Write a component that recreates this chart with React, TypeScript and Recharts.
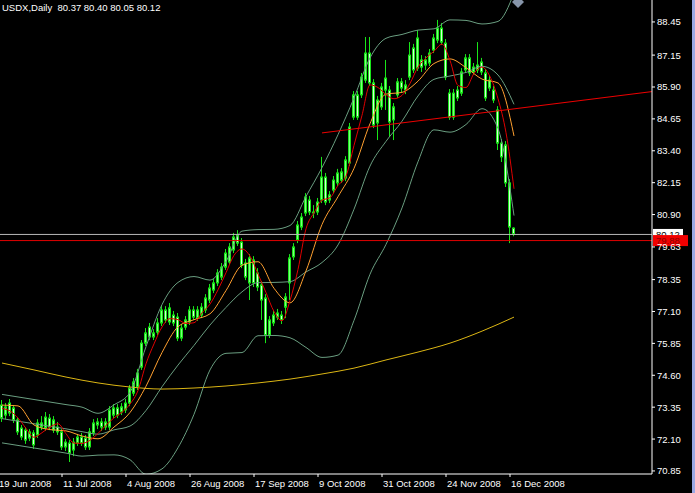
import { Bar, ComposedChart, Line, ReferenceDot, ReferenceLine, XAxis, YAxis } from 'recharts'

// USDX daily candles, 20 Jun 2008 .. 17 Dec 2008 (one entry per bar)
const opens = [
  73.43, 73.04, 73.51, 73.32, 72.85, 72.53, 72.45, 72.14, 72.34, 72.26,
  72.57, 72.53, 72.92, 72.45, 72.57, 72.38, 71.79, 71.94, 71.67, 71.94,
  72.18, 72.14, 71.79, 72.34, 72.65, 72.77, 72.57, 72.57, 73.04, 73.32,
  73.16, 73.24, 73.51, 73.9, 74.14, 74.92, 75.86, 76.49, 76.1, 76.29,
  76.65, 77.16, 76.69, 76.96, 76.88, 76.06, 76.49, 76.69, 77.16, 76.84,
  76.96, 77.16, 77.55, 77.94, 78.22, 78.45, 78.84, 79.04, 79.51, 80.1,
  79.82, 79.0, 78.22, 79.12, 78.61, 78.14, 77.63, 76.18, 76.65, 76.88,
  76.96, 77.27, 78.22, 79.24, 79.9, 80.41, 80.96, 81.47, 81.0, 81.0,
  81.47, 82.37, 81.47, 81.86, 82.14, 82.25, 82.33, 82.92, 84.72, 85.59,
  85.59, 86.17, 87.23, 86.06, 84.49, 85.12, 85.78, 85.78, 84.61, 85.59,
  86.1, 85.78, 86.29, 87.43, 86.64, 86.96, 86.76, 86.84, 87.35, 87.74,
  88.21, 87.62, 85.66, 84.72, 85.78, 85.66, 86.57, 87.04, 86.49, 86.57,
  86.88, 86.45, 85.86, 85.78, 85.0, 83.7, 83.63, 82.14, 80.37,
]
const highs = [
  73.63, 73.51, 73.67, 73.43, 72.96, 72.65, 72.57, 72.49, 72.45, 72.88,
  73.0, 73.16, 73.08, 73.0, 72.77, 72.49, 72.1, 72.06, 72.14, 72.3,
  72.34, 72.26, 72.53, 72.88, 72.92, 72.92, 72.92, 73.39, 73.47, 73.47,
  73.51, 73.67, 74.22, 74.49, 74.85, 75.98, 76.45, 76.65, 76.41, 76.84,
  77.35, 77.31, 77.43, 77.12, 77.04, 76.61, 76.92, 77.31, 77.31, 77.31,
  77.43, 77.78, 78.18, 78.37, 78.76, 79.0, 79.55, 79.78, 80.18, 80.29,
  79.98, 79.16, 79.35, 79.27, 78.8, 78.29, 77.78, 76.92, 77.12, 77.2,
  77.12, 77.82, 79.35, 79.78, 80.65, 80.96, 81.74, 81.63, 81.27, 81.55,
  83.16, 82.53, 81.82, 82.41, 82.69, 82.72, 83.19, 84.49, 85.74, 85.74,
  86.45, 87.86, 87.86, 86.21, 85.55, 86.06, 86.96, 85.94, 85.27, 86.25,
  86.25, 86.17, 87.66, 87.59, 88.13, 87.15, 87.11, 87.39, 87.98, 88.53,
  88.41, 87.78, 85.82, 85.82, 85.94, 86.64, 87.19, 87.19, 86.84, 87.66,
  87.04, 86.61, 86.33, 85.94, 85.15, 83.86, 83.78, 82.29, 80.4,
]
const lows = [
  72.77, 72.88, 73.0, 72.73, 72.26, 72.06, 71.91, 72.02, 71.71, 72.14,
  72.45, 72.42, 72.45, 72.34, 72.26, 71.67, 71.63, 71.2, 71.43, 71.83,
  71.83, 71.67, 71.67, 72.22, 72.49, 72.42, 72.45, 72.45, 72.92, 72.92,
  73.04, 73.12, 73.39, 73.79, 74.02, 74.81, 75.75, 75.98, 75.98, 76.18,
  76.53, 76.65, 76.57, 76.53, 75.94, 75.94, 76.38, 76.57, 76.77, 76.73,
  76.84, 77.04, 77.43, 77.82, 78.1, 78.33, 78.73, 78.92, 79.39, 79.67,
  78.8, 78.33, 77.55, 78.06, 77.9, 76.77, 75.86, 76.06, 76.53, 76.77,
  76.61, 76.84, 77.55, 79.12, 79.78, 80.29, 80.84, 80.88, 80.76, 80.88,
  81.35, 81.27, 81.35, 81.74, 82.02, 82.14, 82.21, 82.8, 84.61, 84.61,
  85.47, 86.06, 85.94, 84.29, 83.82, 85.0, 85.0, 83.94, 83.82, 85.47,
  85.7, 85.62, 86.17, 86.45, 86.53, 86.49, 86.57, 86.72, 87.23, 87.62,
  87.55, 86.17, 84.61, 84.61, 85.35, 85.55, 86.45, 86.33, 86.37, 86.45,
  86.37, 85.35, 85.74, 85.27, 83.43, 82.96, 81.98, 79.78, 80.05,
]
const closes = [
  72.92, 73.36, 73.12, 72.85, 72.38, 72.18, 72.06, 72.38, 71.87, 72.73,
  72.73, 72.96, 72.57, 72.85, 72.38, 71.79, 71.98, 71.55, 71.98, 72.18,
  71.94, 71.79, 72.38, 72.73, 72.77, 72.57, 72.77, 73.24, 73.32, 73.04,
  73.36, 73.51, 74.1, 74.34, 74.69, 75.86, 76.26, 76.1, 76.26, 76.65,
  77.16, 76.77, 77.24, 76.65, 76.06, 76.45, 76.77, 77.16, 76.88, 77.16,
  77.27, 77.63, 78.02, 78.22, 78.61, 78.84, 79.39, 79.63, 80.02, 79.78,
  78.92, 78.45, 79.2, 78.22, 78.06, 77.55, 76.18, 76.77, 76.96, 77.04,
  76.77, 77.67, 79.2, 79.63, 80.49, 80.8, 81.59, 81.0, 80.96, 81.39,
  82.37, 81.39, 81.67, 82.25, 82.53, 82.57, 83.04, 84.33, 85.59, 84.72,
  86.29, 87.23, 86.06, 84.41, 85.39, 85.9, 86.25, 84.53, 85.12, 86.1,
  85.86, 85.98, 87.15, 86.57, 87.82, 86.68, 86.96, 87.23, 87.82, 88.21,
  87.66, 86.29, 84.72, 85.66, 85.47, 86.49, 87.04, 86.45, 86.68, 86.76,
  86.49, 85.47, 86.17, 85.39, 83.7, 83.16, 82.14, 80.41, 80.12,
]

// red MA, read every 2nd bar
const maFast = [
  73.3, 73.2, 72.93, 72.52, 72.17, 72.35, 72.57, 72.7, 72.31, 71.94,
  71.93, 72.05, 72.32, 72.64, 72.93, 73.15, 73.47, 74.0, 75.05, 75.83,
  76.49, 76.82, 76.78, 76.63, 76.66, 77.05, 77.39, 77.95, 78.62, 79.3,
  79.55, 79.27, 78.57, 77.84, 77.1, 76.74, 77.53, 78.75, 80.34, 80.97,
  81.46, 81.56, 82.04, 82.41, 83.61, 84.79, 85.98, 85.88, 85.6, 85.44,
  85.57, 86.04, 86.68, 87.04, 87.3, 87.58, 86.94, 85.96, 85.88, 86.43,
  86.68, 86.31, 85.44, 84.11, 81.91,
]
// orange MA and bollinger bands, read every 4th bar
const maSlow = [
  73.43, 73.4, 72.65, 72.47, 72.42, 72.22, 72.11, 72.57, 73.14, 74.17,
  75.49, 76.5, 76.78, 77.01, 77.92, 78.91, 79.05, 78.01, 77.44, 78.69,
  80.51, 81.6, 82.71, 84.46, 85.62, 85.69, 86.13, 86.82, 87.0, 86.66,
  86.21, 86.06, 83.98,
]
const bandUpper = [
  73.85, 73.75, 73.65, 73.55, 73.45, 73.35, 73.11, 73.44, 73.93, 75.72,
  77.37, 78.24, 78.47, 78.33, 79.06, 80.25, 80.31, 80.32, 80.47, 81.61,
  82.74, 84.03, 85.47, 87.04, 87.81, 87.96, 88.13, 88.18, 88.53, 88.51,
  88.37, 88.47, 89.58,
]
const bandMiddle = [
  72.9, 72.8, 72.7, 72.6, 72.5, 72.39, 72.29, 72.46, 72.61, 73.22,
  74.15, 75.0, 75.77, 76.57, 77.26, 77.87, 78.23, 78.24, 78.27, 78.65,
  79.02, 79.71, 81.11, 82.8, 83.77, 84.56, 85.55, 86.2, 86.33, 86.47,
  86.71, 86.37, 85.22,
]
const bandLower = [
  71.95, 71.85, 71.75, 71.65, 71.55, 71.43, 71.47, 71.48, 71.29, 70.72,
  70.93, 71.76, 73.07, 74.81, 75.46, 75.49, 76.15, 76.16, 76.07, 75.69,
  75.3, 75.39, 76.75, 78.56, 79.73, 81.16, 82.97, 84.22, 84.13, 84.43,
  85.05, 84.27, 80.86,
]
// yellow long MA, read every 8th bar
const maLong = [
  75.08, 74.81, 74.53, 74.3, 74.14, 74.06, 74.1, 74.18, 74.3, 74.45,
  74.65, 74.88, 75.2, 75.51, 75.86, 76.33, 76.88,
]

const dateTicks = [-1, 15, 31, 47, 63, 79, 95, 111, 127]
const dateLabels = [
  '19 Jun 2008', '11 Jul 2008', '4 Aug 2008', '26 Aug 2008', '17 Sep 2008',
  '9 Oct 2008', '31 Oct 2008', '24 Nov 2008', '16 Dec 2008',
]
const priceTicks = [
  70.85, 72.1, 73.35, 74.6, 75.85, 77.1, 78.35, 79.63, 80.9, 82.15, 83.4, 84.65, 85.9, 87.15, 88.45,
]

const trendStart = { x: 80, y: 84.1 }
const trendEnd = { x: 162.5, y: 85.72 }
const lastClose = 80.12
const redLevel = 79.88

const FONT = '"Liberation Sans", Arial, sans-serif'
const BAND = '#6a9e80'

const rows = opens.map((open, i) => ({
  i,
  open,
  high: highs[i],
  low: lows[i],
  close: closes[i],
  maFast: i % 2 === 0 ? maFast[i / 2] : null,
  maSlow: i % 4 === 0 ? maSlow[i / 4] : null,
  bandUpper: i % 4 === 0 ? bandUpper[i / 4] : null,
  bandMiddle: i % 4 === 0 ? bandMiddle[i / 4] : null,
  bandLower: i % 4 === 0 ? bandLower[i / 4] : null,
  maLong: i % 8 === 0 ? maLong[i / 8] : null,
}))

function Candle(props: any) {
  const { x, y, width, height, payload } = props
  if (!payload) return null
  const top = Math.min(y, y + height)
  const h = Math.abs(height)
  const range = payload.high - payload.low
  const k = range > 0 ? h / range : 0
  const yO = top + (payload.high - payload.open) * k
  const yC = top + (payload.high - payload.close) * k
  const c = Math.floor(x + width / 2)
  const bodyTop = Math.min(yO, yC)
  const bodyH = Math.max(1, Math.abs(yC - yO))
  const bull = payload.close >= payload.open
  return (
    <g>
      <line x1={c + 0.5} x2={c + 0.5} y1={top} y2={top + h} stroke="#19e619" strokeWidth={1} />
      <rect
        x={c - 0.5}
        y={bodyTop}
        width={2}
        height={bodyH}
        fill={bull ? '#7dff7d' : '#d6ffd6'}
        stroke="#19e619"
        strokeWidth={1}
      />
    </g>
  )
}

function PriceTick({ x, y, payload }: any) {
  return (
    <text x={x} y={y + 3.5} fill="#fff" fontSize={9.5} fontFamily={FONT}>
      {payload.value.toFixed(2)}
    </text>
  )
}

function DateTick({ x, y, payload }: any) {
  const idx = dateTicks.indexOf(payload.value)
  return (
    <text x={x + 1} y={y + 8} fill="#fff" fontSize={9.5} fontFamily={FONT}>
      {dateLabels[idx]}
    </text>
  )
}

function PriceTag({ viewBox, text, bg, color, w }: any) {
  if (!viewBox) return null
  const left = viewBox.x + viewBox.width + 1
  return (
    <g>
      <rect x={left} y={viewBox.y - 5.5} width={w} height={11} fill={bg} />
      <text x={left + 3} y={viewBox.y + 3.5} fill={color} fontSize={9.5} fontFamily={FONT}>
        {text}
      </text>
    </g>
  )
}

function Diamond({ cx, cy }: any) {
  return <polygon points={`${cx},${cy - 4} ${cx + 6},${cy + 2} ${cx},${cy + 8} ${cx - 6},${cy + 2}`} fill="#8795aa" />
}

const lineProps = {
  type: 'monotone' as const,
  strokeWidth: 1,
  dot: false,
  activeDot: false,
  connectNulls: true,
  isAnimationActive: false,
}

export default function App() {
  return (
    <div style={{ position: 'absolute', left: 0, top: 0, width: 695, height: 493, background: '#9ba7e3' }}>
      <ComposedChart
        width={692}
        height={493}
        data={rows}
        margin={{ top: 0, right: 0, bottom: 0, left: 0 }}
        style={{ background: '#000' }}
      >
        <XAxis
          type="number"
          dataKey="i"
          domain={[-0.5, 162.5]}
          ticks={dateTicks}
          interval={0}
          height={19}
          axisLine={{ stroke: '#fff' }}
          tickLine={{ stroke: '#fff' }}
          tickSize={3}
          tickMargin={2}
          tick={<DateTick />}
          allowDataOverflow
        />
        <YAxis
          orientation="right"
          type="number"
          domain={[70.73, 89.31]}
          ticks={priceTicks}
          interval={0}
          width={40}
          axisLine={{ stroke: '#fff' }}
          tickLine={{ stroke: '#fff' }}
          tickSize={3}
          tickMargin={2}
          tick={<PriceTick />}
          allowDataOverflow
        />
        <Line dataKey="maLong" stroke="#dcb614" {...lineProps} />
        <Line dataKey="bandUpper" stroke={BAND} {...lineProps} />
        <Line dataKey="bandMiddle" stroke={BAND} {...lineProps} />
        <Line dataKey="bandLower" stroke={BAND} {...lineProps} />
        <Bar dataKey={(d: any) => [d.low, d.high]} barSize={3} shape={<Candle />} isAnimationActive={false} />
        <Line dataKey="maSlow" stroke="#ffa030" {...lineProps} />
        <Line dataKey="maFast" stroke="#e00000" {...lineProps} />
        <ReferenceLine segment={[trendStart, trendEnd]} stroke="#ee0000" strokeWidth={1} />
        <ReferenceLine
          y={lastClose}
          stroke="#b8b8b8"
          label={<PriceTag text="80.12" bg="#fff" color="#000" w={30} />}
        />
        <ReferenceLine
          y={redLevel}
          stroke="#e00000"
          label={<PriceTag text="79.88" bg="#f00000" color="#8a0000" w={35} />}
        />
        <ReferenceDot x={129} y={89.31} ifOverflow="visible" shape={<Diamond />} />
      </ComposedChart>
      <div
        style={{
          position: 'absolute',
          left: 2,
          top: 1,
          color: '#fff',
          fontFamily: FONT,
          fontSize: 9.5,
          lineHeight: '13px',
          whiteSpace: 'pre',
        }}
      >
        {'USDX,Daily  80.37 80.40 80.05 80.12'}
      </div>
    </div>
  )
}
